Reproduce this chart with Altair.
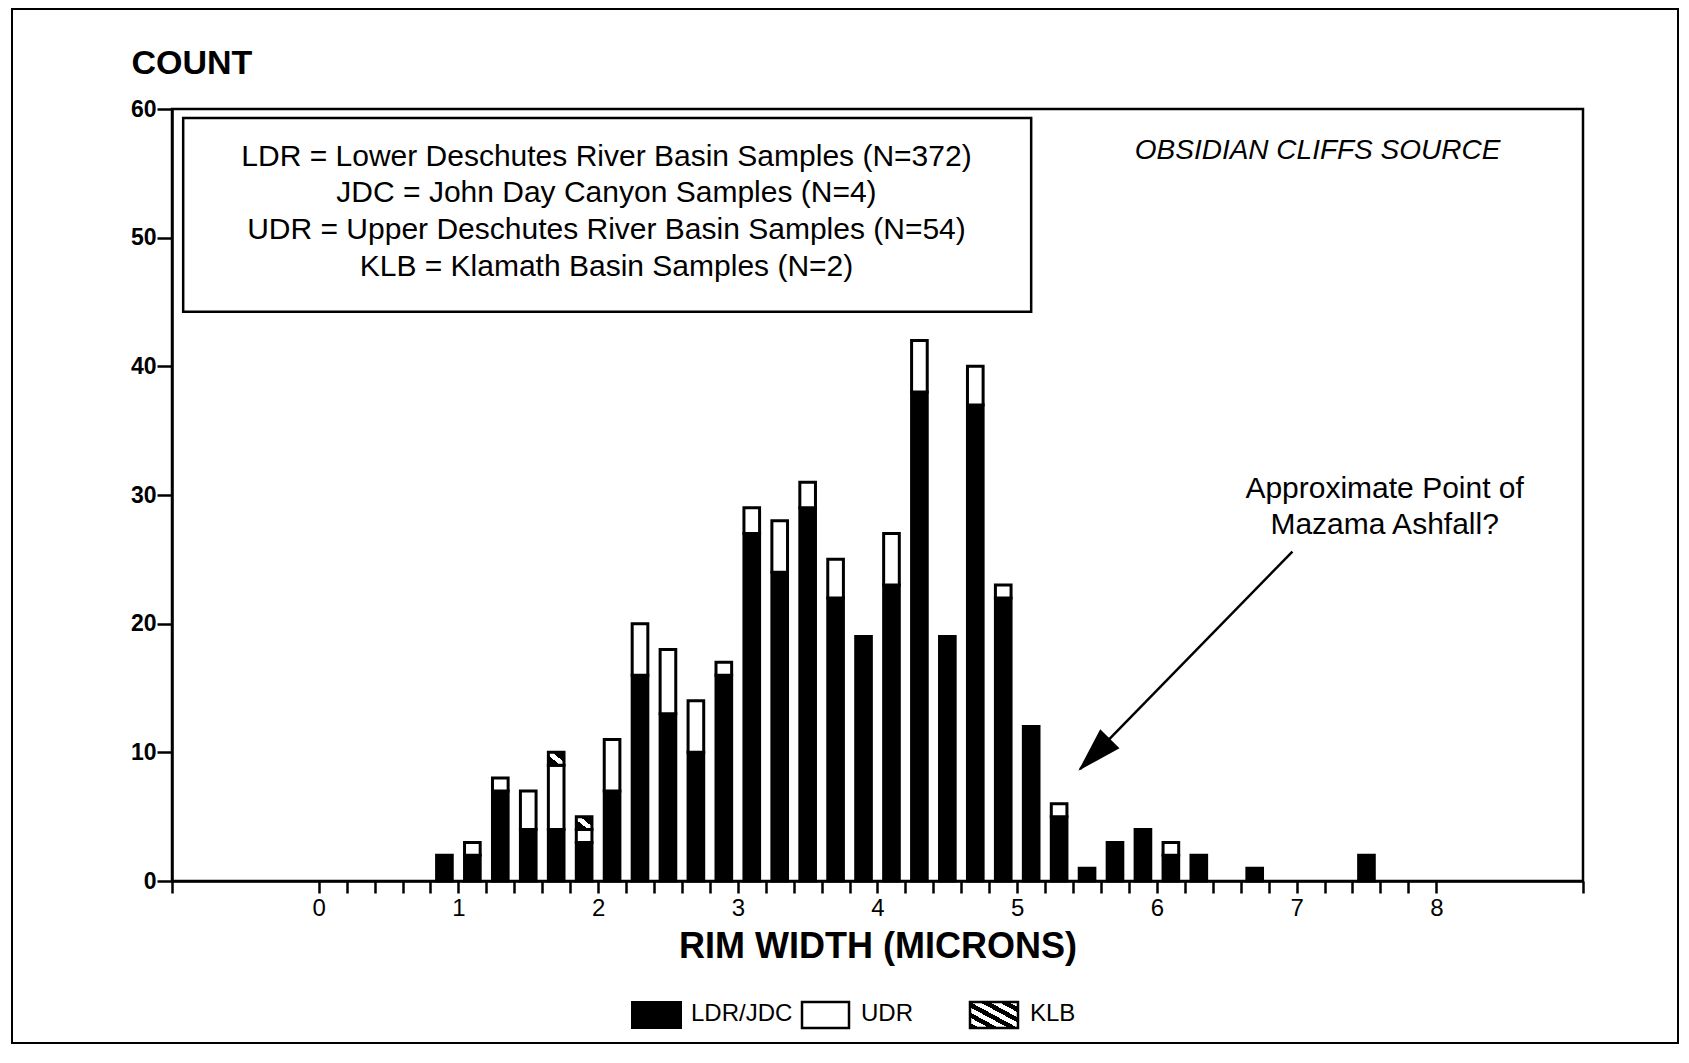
import altair as alt
import pandas as pd

# ---- data ----
centers = [0.9, 1.1, 1.3, 1.5, 1.7, 1.9, 2.1, 2.3, 2.5, 2.7, 2.9, 3.1, 3.3, 3.5, 3.7,
           3.9, 4.1, 4.3, 4.5, 4.7, 4.9, 5.1, 5.3, 5.5, 5.7, 5.9, 6.1, 6.3, 6.7, 7.5]
ldr_jdc = [2, 2, 7, 4, 4, 3, 7, 16, 13, 10, 16, 27, 24, 29, 22,
           19, 23, 38, 19, 37, 22, 12, 5, 1, 3, 4, 2, 2, 1, 2]
udr = [0, 1, 1, 3, 5, 1, 4, 4, 5, 4, 1, 2, 4, 2, 3,
       0, 4, 4, 0, 3, 1, 0, 1, 0, 0, 0, 1, 0, 0, 0]
klb = [0, 0, 0, 0, 1, 1, 0, 0, 0, 0, 0, 0, 0, 0, 0,
       0, 0, 0, 0, 0, 0, 0, 0, 0, 0, 0, 0, 0, 0, 0]

x_label_values = [0, 1, 2, 3, 4, 5, 6, 7, 8]
y_tick_values = [0, 10, 20, 30, 40, 50, 60]

key_lines = [
    "LDR = Lower Deschutes River Basin Samples (N=372)",
    "JDC = John Day Canyon Samples (N=4)",
    "UDR = Upper Deschutes River Basin Samples (N=54)",
    "KLB = Klamath Basin Samples (N=2)",
]
source_text = "OBSIDIAN CLIFFS SOURCE"
note_lines = ["Approximate Point of", "Mazama Ashfall?"]
legend_names = ["LDR/JDC", "UDR", "KLB"]

FONT = "Liberation Sans"
W, H = 1411, 772
X_DOMAIN = [-1.05, 9.05]

# ---- build tables ----
rows = []
for c, a, b, k in zip(centers, ldr_jdc, udr, klb):
    base = 0
    for grp, v in (("LDR/JDC", a), ("UDR", b), ("KLB", k)):
        if v > 0:
            rows.append({"center": c, "group": grp, "y0": base, "y1": base + v})
            base += v
seg = pd.DataFrame(rows)

xscale = alt.Scale(domain=X_DOMAIN, nice=False, zero=False)
yscale = alt.Scale(domain=[0, 60], nice=False)

tick_vals = [X_DOMAIN[0]] + [round(i * 0.2, 1) for i in range(41)] + [X_DOMAIN[1]]
label_expr = ("(datum.value >= 0 && datum.value <= 8 && "
              "abs(datum.value - round(datum.value)) < 0.001) ? format(datum.value, 'd') : ''")

xaxis = alt.Axis(values=tick_vals, labelExpr=label_expr, grid=False,
                 tickSize=12, tickWidth=2.5, tickColor="black",
                 domainColor="black", domainWidth=2.5,
                 labelFont=FONT, labelFontSize=24, labelFontWeight="normal",
                 labelColor="black", labelPadding=3, labelOverlap=False, labelFlush=False,
                 title="RIM WIDTH (MICRONS)", titleFont=FONT, titleFontSize=36,
                 titleFontWeight="bold", titleColor="black",
                 titleY=76, titleBaseline="alphabetic")
yaxis = alt.Axis(values=y_tick_values, grid=False,
                 tickSize=15, tickWidth=2.5, tickColor="black",
                 domainColor="black", domainWidth=2.5,
                 labelFont=FONT, labelFontSize=23, labelFontWeight="bold",
                 labelColor="black", labelPadding=1,
                 title="COUNT", titleFont=FONT, titleFontSize=34, titleFontWeight="bold",
                 titleColor="black", titleAngle=0, titleAlign="left",
                 titleBaseline="alphabetic", titleX=-41, titleY=-36)


def X(field):
    return alt.X(field, scale=xscale, axis=xaxis)


def Y(field):
    return alt.Y(field, scale=yscale, axis=yaxis)


HALF = 0.056
base = alt.Chart(seg).transform_calculate(
    xa=f"datum.center - {HALF}", xb=f"datum.center + {HALF}"
)


def stops(n, frac_black):
    out = []
    for i in range(n):
        a = i / n
        m = (i + frac_black) / n
        b = (i + 1) / n
        out += [alt.GradientStop(color="black", offset=a), alt.GradientStop(color="black", offset=m),
                alt.GradientStop(color="white", offset=m), alt.GradientStop(color="white", offset=b)]
    return out


hatch_bar = alt.LinearGradient(
    gradient="linear", x1=0, y1=1, x2=1, y2=0,
    stops=[alt.GradientStop(color="black", offset=0), alt.GradientStop(color="black", offset=0.38),
           alt.GradientStop(color="white", offset=0.38), alt.GradientStop(color="white", offset=0.62),
           alt.GradientStop(color="black", offset=0.62), alt.GradientStop(color="black", offset=1)])
hatch_legend = alt.LinearGradient(gradient="linear", x1=0, y1=1, x2=1, y2=0, stops=stops(5, 0.5))


def bar_layer(group, fill):
    return base.transform_filter(alt.datum.group == group).mark_bar(
        fill=fill, stroke="black", strokeWidth=3, strokeJoin="miter"
    ).encode(x=X("xa:Q"), x2="xb:Q", y=Y("y0:Q"), y2="y1:Q")


bars_ldr = bar_layer("LDR/JDC", "black")
bars_udr = bar_layer("UDR", "white")
bars_klb = bar_layer("KLB", hatch_bar)

# key box inside the plot
key_box = alt.Chart(pd.DataFrame({"x": [-0.97], "x2": [5.10], "y": [59.3], "y2": [44.25]})).mark_rect(
    fillOpacity=0, stroke="black", strokeWidth=2.5
).encode(x=X("x:Q"), x2="x2:Q", y=Y("y:Q"), y2="y2:Q")

key_df = pd.DataFrame({"text": key_lines, "x": [2.06] * 4, "y": [56.3, 53.45, 50.6, 47.75]})
key_text = alt.Chart(key_df).mark_text(
    font=FONT, fontSize=30, color="black", align="center", baseline="middle"
).encode(x=X("x:Q"), y=Y("y:Q"), text="text:N")

src = alt.Chart(pd.DataFrame({"text": [source_text], "x": [7.15], "y": [56.7]})).mark_text(
    font=FONT, fontSize=28, fontStyle="italic", color="black", align="center", baseline="middle"
).encode(x=X("x:Q"), y=Y("y:Q"), text="text:N")

note = alt.Chart(pd.DataFrame({"text": note_lines, "x": [7.63, 7.63], "y": [30.45, 27.7]})).mark_text(
    font=FONT, fontSize=30, color="black", align="center", baseline="middle"
).encode(x=X("x:Q"), y=Y("y:Q"), text="text:N")

# arrow
arrow_df = pd.DataFrame({"x": [6.97, 5.45], "y": [25.6, 8.7], "o": [0, 1]})
arrow_line = alt.Chart(arrow_df).mark_line(color="black", strokeWidth=2.5).encode(
    x=X("x:Q"), y=Y("y:Q"), order="o:Q")
arrow_head = alt.Chart(pd.DataFrame({"x": [5.438], "y": [8.56]})).mark_point(
    shape="M0,0L-0.3,1L0.3,1Z", filled=True, fill="black", opacity=1, size=8100, angle=224.4,
    strokeWidth=0
).encode(x=X("x:Q"), y=Y("y:Q"))

# legend below the axis (pixel layout)
LY, LY2, LTY = 893, 919, 905
leg_black = alt.Chart(pd.DataFrame({"n": [legend_names[0]]})).mark_rect(fill="black", stroke="black", strokeWidth=2).encode(
    x=alt.value(460), x2=alt.value(509), y=alt.value(LY), y2=alt.value(LY2))
leg_white = alt.Chart(pd.DataFrame({"n": [legend_names[1]]})).mark_rect(fill="white", stroke="black", strokeWidth=2.5).encode(
    x=alt.value(630), x2=alt.value(677), y=alt.value(LY), y2=alt.value(LY2))
leg_hatch = alt.Chart(pd.DataFrame({"n": [legend_names[2]]})).mark_rect(fill=hatch_legend, stroke="black", strokeWidth=2.5).encode(
    x=alt.value(798), x2=alt.value(846), y=alt.value(LY), y2=alt.value(LY2))
leg_text = alt.layer(*[
    alt.Chart(pd.DataFrame({"t": [name]})).mark_text(
        font=FONT, fontSize=24, color="black", align="left", baseline="middle"
    ).encode(x=alt.value(px), y=alt.value(LTY), text="t:N")
    for name, px in zip(legend_names, [519, 689, 858])
])

# scanned page frame
frame = alt.Chart(pd.DataFrame({"f": [1]})).mark_rect(
    fillOpacity=0, stroke="black", strokeWidth=2
).encode(x=alt.value(-160), x2=alt.value(1506), y=alt.value(-100), y2=alt.value(934))

chart = alt.layer(
    bars_ldr, bars_udr, bars_klb, key_box, key_text, src, note,
    arrow_line, arrow_head, leg_black, leg_white, leg_hatch, leg_text, frame
).properties(
    width=W, height=H, padding={"left": 3, "top": 0, "right": 0, "bottom": 0}
).configure(font=FONT, background="white").configure_view(
    stroke="black", strokeWidth=2.5
)

chart.save("out.html", embed_options={"renderer": "svg", "actions": False})
